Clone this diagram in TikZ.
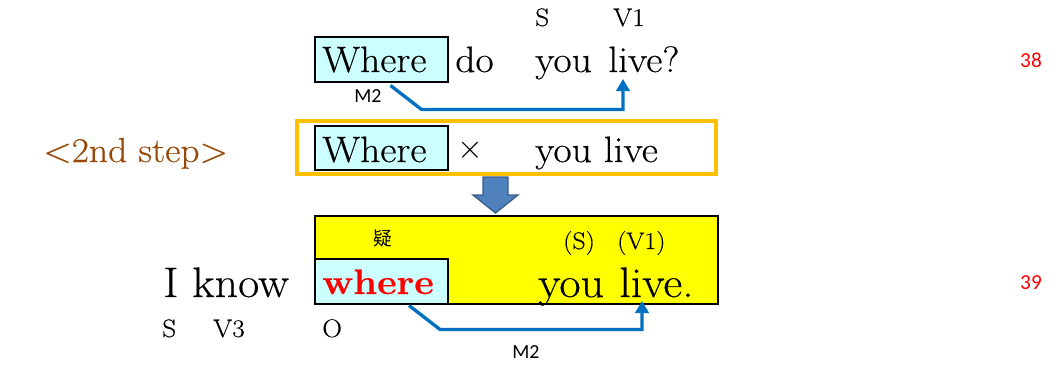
\documentclass[tikz,border=0pt]{standalone}
\usepackage{fontspec}
\usepackage{amsmath, amssymb}
\usepackage{tikz}
\usetikzlibrary{arrows.meta,fit,calc}
\setmainfont{Latin Modern Roman}[FakeStretch=1.08, FakeBold=0.4]
\newfontfamily\calfont{Carlito}
\newfontfamily\cjkfont{Noto Sans CJK JP}
\definecolor{boxcyan}{RGB}{204,255,255}
\definecolor{frameorange}{RGB}{255,192,0}
\definecolor{linkblue}{RGB}{0,112,192}
\definecolor{stepbrown}{RGB}{151,71,6}
\definecolor{downfill}{RGB}{79,129,189}
\definecolor{downline}{RGB}{56,93,138}
\definecolor{clauseyellow}{RGB}{255,255,0}
\tikzset{
  sentence/.style={font=\fontsize{27.5}{30}\selectfont, anchor=base west, inner sep=0pt},
  bigsentence/.style={font=\fontsize{32}{36}\selectfont, anchor=base west, inner sep=0pt},
  role/.style={font=\fontsize{19}{22}\selectfont, anchor=base west, inner sep=0pt},
  wbox/.style={draw=black, line width=2.2pt, fill=boxcyan, inner sep=0pt},
  m2line/.style={draw=linkblue, line width=2.5pt, -{Triangle[width=10pt,length=9pt]}},
  m2label/.style={font=\calfont\fontsize{15}{17}\selectfont, inner sep=0pt},
  pagenum/.style={font=\calfont\fontsize{16}{18}\selectfont, text=red, inner sep=0pt},
}

\begin{document}
\begin{tikzpicture}[x=0.75pt,y=0.75pt,yscale=-1,xscale=1]
\useasboundingbox (0,0) rectangle (1062,364);

%--- question: Where do you live?
\node [wbox, fit={(315,37) (448,82)}] (wbox1) {};
\draw (322,72) node [sentence] (where1) {Where};
\draw (455,72) node [sentence] (do1) {do};
\draw (535,72) node [sentence] (you1) {you};
\draw (608,72) node [sentence] (live1) {live?};
\draw (535,26) node [role] (s1) {S};
\draw (613,26) node [role] (v1) {V1};
\draw (368,96) node [m2label] (m2a) {M2};
\draw [m2line] ($(wbox1.south)+(9,2)$) -- ++(31,24) -| ($(live1.base west)+(15,7)$);

%--- 2nd step
\draw (43,162) node [sentence, font=\fontsize{26}{30}\selectfont, text=stepbrown] (steplabel) {<2nd step>};
\node [draw=frameorange, line width=3pt, inner sep=0pt, fit={(297,121) (716,174)}] (stepframe) {};
\node [wbox, fit={(315,126) (448,170)}] (wbox2) {};
\draw (322,162) node [sentence] (where2) {Where};
\draw (470,150) node [inner sep=0pt, font=\fontsize{26.5}{30}\selectfont] (cross) {$\times$};
\draw (535,162) node [sentence] (you2) {you live};

%Block arrow down
\draw [fill=downfill, draw=downline, line width=1pt] (483,177) -- (508,177) -- (508,195) -- (518,195) -- (495.5,213) -- (473,195) -- (483,195) -- cycle;

%--- embedded: I know where you live.
\node [draw=black, line width=2.2pt, fill=clauseyellow, inner sep=0pt, fit={(315,216) (718,304)}] (clause) {};
\node [wbox, fit={(315,259) (448,304)}] (wbox3) {};
\draw (383,238) node [inner sep=0pt, font=\cjkfont\fontsize{14}{16}\selectfont] (gi) {疑};
\draw (563,249) node [role, font=\fontsize{18}{20}\selectfont] (s2) {(S)};
\draw (617,249) node [role, font=\fontsize{18}{20}\selectfont] (v2) {(V1)};
\draw (322,294) node [sentence, font=\bfseries\fontsize{26.5}{30}\selectfont, text=red] (where3) {where};
\draw (163,297) node [bigsentence] (iknow) {I know};
\draw (538,297) node [bigsentence] (you3) {you};
\draw (619,297) node [bigsentence] (live3) {live.};
\draw (162,337) node [role] (s3) {S};
\draw (213,337) node [role] (v3) {V3};
\draw (322,337) node [role] (o3) {O};
\draw (526,352) node [m2label] (m2b) {M2};
\draw [m2line] ($(wbox3.south)+(27.5,0)$) -- ++(31,24) -| ($(live3.base west)+(23,4)$);

% page numbers
\draw (1031,60) node [pagenum] (p38) {38};
\draw (1031,283) node [pagenum] (p39) {39};

\end{tikzpicture}
\end{document}
